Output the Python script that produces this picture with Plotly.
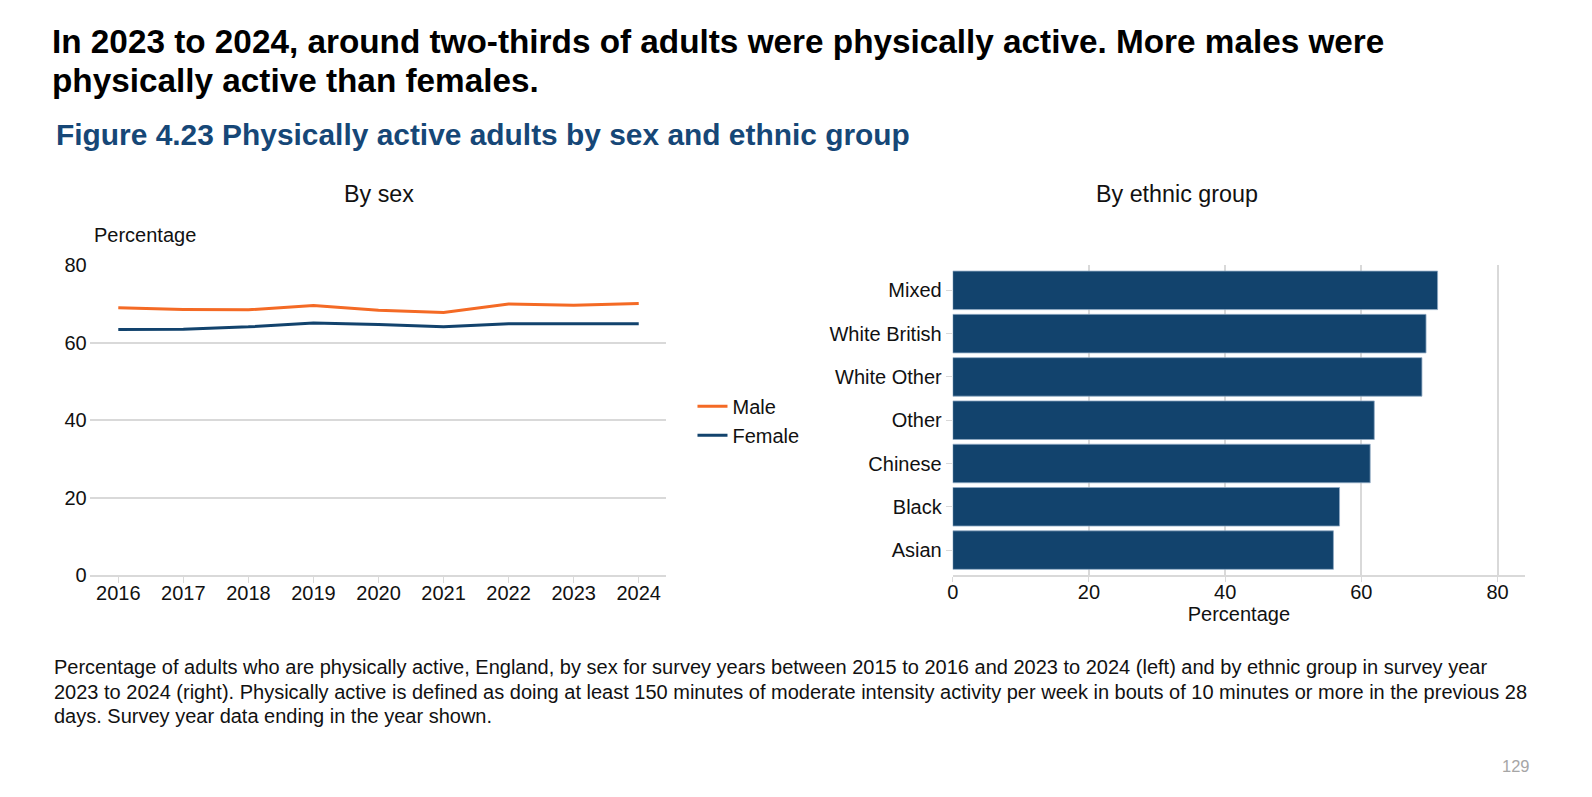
import plotly.graph_objects as go

W, H = 1592, 797

years = ["2016", "2017", "2018", "2019", "2020", "2021", "2022", "2023", "2024"]
male = [69.0, 68.6, 68.5, 69.6, 68.4, 67.8, 70.0, 69.7, 70.1]
female = [63.4, 63.5, 64.1, 65.1, 64.7, 64.1, 64.9, 64.9, 64.9]

ethnic_groups = ["Asian", "Black", "Chinese", "Other", "White Other", "White British", "Mixed"]
ethnic_values = [55.9, 56.8, 61.3, 61.9, 68.9, 69.5, 71.2]

ORANGE = "#F46A25"
NAVY = "#12436D"
GRID = "#D9D9D9"
FONT = "Liberation Sans, Arial, sans-serif"


def px(x):
    # screen x position -> paper fraction
    return ((x - 5.7) / 0.98) / W


def py(y):
    # screen y position -> paper fraction
    return 1 - ((y - 10) / 0.96) / H


fig = go.Figure()
fig.add_trace(go.Scatter(x=years, y=male, mode="lines", name="Male",
                         line=dict(color=ORANGE, width=3), xaxis="x", yaxis="y"))
fig.add_trace(go.Scatter(x=years, y=female, mode="lines", name="Female",
                         line=dict(color=NAVY, width=3), xaxis="x", yaxis="y"))
fig.add_trace(go.Bar(x=ethnic_values, y=ethnic_groups, orientation="h",
                     marker=dict(color=NAVY, line=dict(color="#8FA9C4", width=0.8)),
                     showlegend=False, xaxis="x2", yaxis="y2"))

TS = 20
tickfont = dict(family=FONT, size=TS, color="#111111")

fig.update_layout(
    width=W, height=H, autosize=False,
    margin=dict(l=0, r=0, t=0, b=0),
    paper_bgcolor="white", plot_bgcolor="white",
    font=dict(family=FONT, color="#111111"),
    bargap=0.11,
    xaxis=dict(domain=[px(88), px(655)], anchor="y", type="category",
               range=[-0.44, 8.42], showgrid=False, zeroline=False,
               showline=True, linecolor=GRID, linewidth=2,
               ticks="outside", ticklen=6, tickcolor=GRID, tickwidth=1,
               ticklabelstandoff=-7, tickfont=tickfont),
    yaxis=dict(domain=[py(567), py(261)], anchor="x", range=[0, 80],
               tickvals=[0, 20, 40, 60, 80], showgrid=True, gridcolor=GRID,
               gridwidth=1.5, zeroline=False, showline=False, ticks="",
               ticklabelstandoff=2, tickfont=tickfont),
    xaxis2=dict(domain=[px(937), px(1500)], anchor="y2", range=[0, 84.04],
                tickvals=[0, 20, 40, 60, 80], showgrid=True, gridcolor=GRID,
                gridwidth=1.5, zeroline=False, showline=True, linecolor=GRID,
                linewidth=2, ticks="outside", ticklen=5, tickcolor=GRID,
                ticklabelstandoff=-7, tickfont=tickfont,
                title=dict(text="Percentage", font=tickfont, standoff=4)),
    yaxis2=dict(domain=[py(567), py(261)], anchor="x2", type="category",
                range=[-0.58, 6.58], showgrid=False, zeroline=False,
                showline=False, ticks="outside", ticklen=6, tickcolor=GRID,
                tickfont=tickfont),
    legend=dict(x=px(681), y=py(381), xanchor="left", yanchor="top",
                font=dict(family=FONT, size=TS, color="#111111"),
                bgcolor="rgba(0,0,0,0)", tracegroupgap=4, itemwidth=30),
)

annotations = [
    dict(x=px(49), y=py(40), text="<b>In 2023 to 2024, around two-thirds of adults were physically active. More males were</b>",
         font=dict(size=33.3, color="#000000"), xanchor="left", yanchor="middle"),
    dict(x=px(49), y=py(79), text="<b>physically active than females.</b>",
         font=dict(size=33.3, color="#000000"), xanchor="left", yanchor="middle"),
    dict(x=px(53), y=py(132), text="<b>Figure 4.23 Physically active adults by sex and ethnic group</b>",
         font=dict(size=29.9, color="#164777"), xanchor="left", yanchor="middle"),
    dict(x=px(373), y=py(191), text="By sex", font=dict(size=23.3, color="#111111"),
         xanchor="center", yanchor="middle"),
    dict(x=px(1158), y=py(191), text="By ethnic group", font=dict(size=23.3, color="#111111"),
         xanchor="center", yanchor="middle"),
    dict(x=px(90), y=py(231), text="Percentage", font=dict(size=TS, color="#111111"),
         xanchor="left", yanchor="middle"),
    dict(x=px(51), y=py(658), text="Percentage of adults who are physically active, England, by sex for survey years between 2015 to 2016 and 2023 to 2024 (left) and by ethnic group in survey year",
         font=dict(size=TS, color="#111111"), xanchor="left", yanchor="middle"),
    dict(x=px(51), y=py(682), text="2023 to 2024 (right). Physically active is defined as doing at least 150 minutes of moderate intensity activity per week in bouts of 10 minutes or more in the previous 28",
         font=dict(size=TS, color="#111111"), xanchor="left", yanchor="middle"),
    dict(x=px(51), y=py(706), text="days. Survey year data ending in the year shown.",
         font=dict(size=TS, color="#111111"), xanchor="left", yanchor="middle"),
    dict(x=px(1507), y=py(755), text="129", font=dict(size=16.5, color="#A6A6A6"),
         xanchor="right", yanchor="middle"),
]
for a in annotations:
    a.update(xref="paper", yref="paper", showarrow=False)
    a["font"]["family"] = FONT
fig.update_layout(annotations=annotations)

post = (
    "document.documentElement.style.margin='0';"
    "document.body.style.margin='0';"
    "document.body.style.overflow='hidden';"
)
fig.write_html("out.html", config={"displayModeBar": False}, post_script=post)
